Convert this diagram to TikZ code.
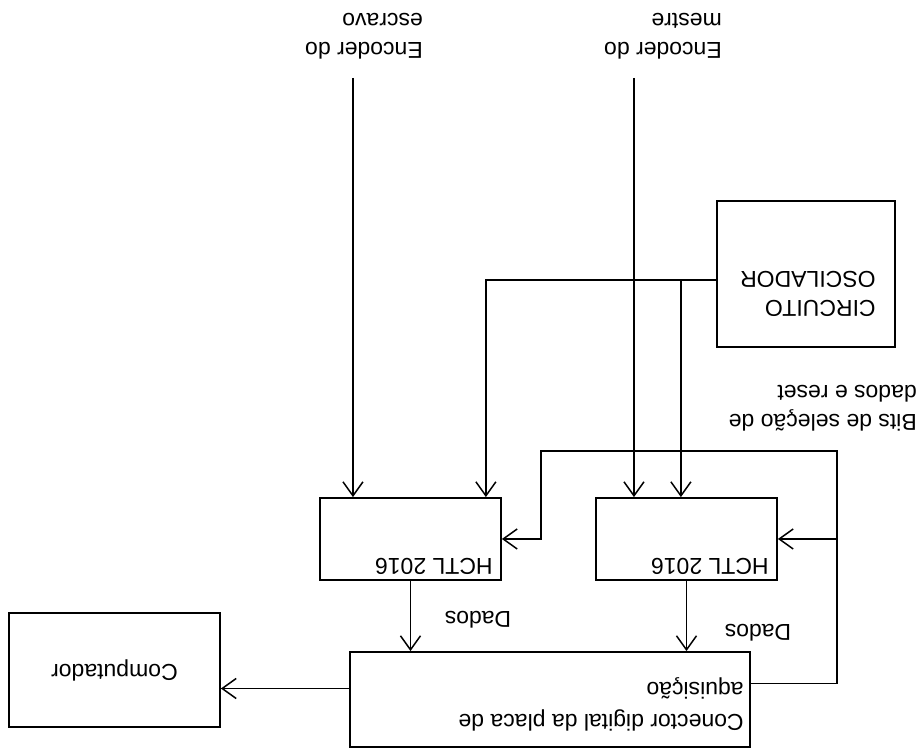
\documentclass[tikz,border=0pt]{standalone}
\usepackage{fontspec}
\setmainfont{Liberation Sans}
\usetikzlibrary{positioning,arrows.meta,calc}

\begin{document}
\begin{tikzpicture}[x=1pt, y=-1pt, rotate=180, transform shape,
    font=\fontsize{23}{29}\selectfont,
    blk/.style={draw, line width=1.8pt, inner sep=0pt},
    lbl/.style={inner sep=3pt, align=left},
    wire/.style={line width=1.5pt},
    arr/.style={wire, -{Straight Barb[length=14pt, width=20pt]}}]
  \useasboundingbox (0,0) rectangle (923,754);
  \node[blk, minimum width=211pt, minimum height=114pt] (comp) at (808.5,84) {Computador};
  \node[blk, minimum width=400pt, minimum height=95pt] (con) at (373,54.5) {};
  \node[lbl, anchor=north west, font=\fontsize{23}{32}\selectfont] (conlab) at ($(con.north west)+(4,14)$) {Conector digital da placa de\\aquisição};
  \node[blk, minimum width=181pt, minimum height=82pt] (h1) at (512.5,215) {};
  \node[blk, minimum width=181pt, minimum height=82pt] (h2) at (236.5,215) {};
  \node[lbl, anchor=north west] (h1lab) at ($(h1.north west)+(6,3)$) {HCTL 2016};
  \node[lbl, anchor=north west] (h2lab) at ($(h2.north west)+(6,3)$) {HCTL 2016};
  \node[blk, minimum width=178pt, minimum height=146pt] (osc) at (117,480) {};
  \node[lbl, anchor=north west] (osclab) at ($(osc.north west)+(17,28)$) {CIRCUITO\\OSCILADOR};
  \node[lbl, anchor=north west] (mes) at (198,692) {Encoder do\\mestre};
  \node[lbl, anchor=north west] (esc) at (497,692) {Encoder do\\escravo};
  \node[lbl, anchor=north west] (bits) at (3,320) {Bits de seleção de\\dados e reset};
  \node[lbl] (d1) at (445,134) {Dados};
  \node[lbl] (d2) at (165,121) {Dados};
  \coordinate (cout) at ($(con.east)+(0,11)$);
  \draw[arr] (cout) -- (cout -| comp.west);
  \foreach \n in {h1, h2} \draw[arr] (\n.north) -- (\n.north |- con.south);
  \coordinate (sout) at ($(con.west)+(0,16)$);
  \coordinate (s1) at (86,303);
  \coordinate (s2) at (382,303);
  \draw[arr] (sout) -| (s1) -- (s2) |- (h1.west);
  \draw[arr] (s1 |- h2.west) -- (h2.west);
  \coordinate (oout) at ($(osc.east)+(0,-6)$);
  \coordinate (o1) at ($(h1.south west)+(16,0)$);
  \coordinate (o2) at ($(h2.south west)+(97,0)$);
  \draw[arr] (oout) -| (o1);
  \draw[arr] (oout -| o2) -- (o2);
  \coordinate (mtop) at ($(mes.north)+(29,-16)$);
  \coordinate (etop) at ($(esc.north)+(11,-16)$);
  \draw[arr] (mtop) -- (mtop |- h2.south);
  \draw[arr] (etop) -- (etop |- h1.south);
\end{tikzpicture}
\end{document}
